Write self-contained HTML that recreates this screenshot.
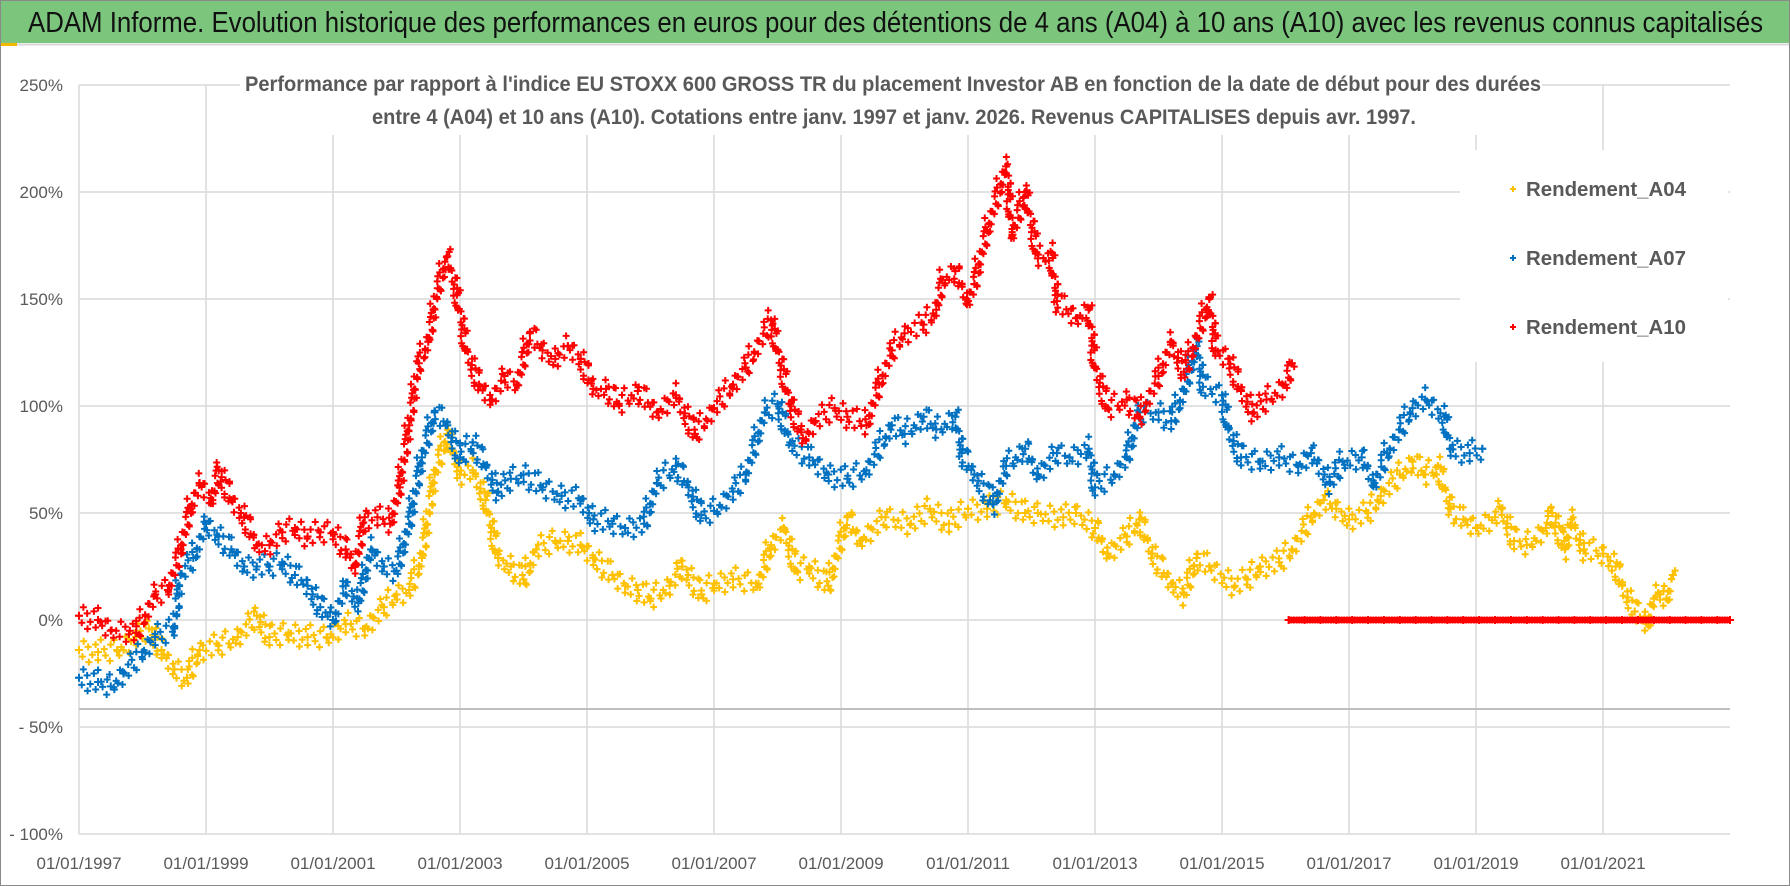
<!DOCTYPE html>
<html><head><meta charset="utf-8"><style>
html,body{margin:0;padding:0;background:#fff;width:1790px;height:886px;overflow:hidden}
svg{display:block;font-family:"Liberation Sans",sans-serif}
</style></head><body>
<svg id="chart" width="1790" height="886">
<rect x="0" y="0" width="1790" height="886" fill="#fff" stroke="#8a8a8a" stroke-width="2"/>
<rect x="1" y="1" width="1788" height="42" fill="#7cc57d"/>
<rect x="1" y="43" width="16" height="3" fill="#f2b800"/>
<line x1="17" y1="44.5" x2="1789" y2="44.5" stroke="#d8d8d8" stroke-width="2"/>
<text x="28" y="32" font-size="29" fill="#111" textLength="1735" lengthAdjust="spacingAndGlyphs">ADAM Informe. Evolution historique des performances en euros pour des détentions de 4 ans (A04) à 10 ans (A10) avec les revenus connus capitalisés</text>
<g id="grid"></g>
<rect x="240" y="70" width="1302" height="65" fill="#fff"/>
<rect x="1460" y="150" width="268" height="212" fill="#fff"/>
<g id="marks"></g>
<text x="245" y="91" font-size="21" font-weight="bold" fill="#595959" textLength="1296" lengthAdjust="spacingAndGlyphs">Performance par rapport à l'indice EU STOXX 600 GROSS TR  du placement Investor AB en fonction de la date de début pour des durées</text>
<text x="372" y="124" font-size="21" font-weight="bold" fill="#595959" textLength="1044" lengthAdjust="spacingAndGlyphs">entre 4 (A04) et 10 ans (A10).  Cotations entre janv. 1997 et janv. 2026. Revenus CAPITALISES depuis avr. 1997.</text>
<g id="legend"></g>
<g id="axes"></g>
</svg>
<script>
const yTicks=[-100,-50,0,50,100,150,200,250];
const yTickLabels=['- 100%','- 50%','0%','50%','100%','150%','200%','250%'];
const xTicks=[1997,1999,2001,2003,2005,2007,2009,2011,2013,2015,2017,2019,2021];
const xTickLabels=['01/01/1997','01/01/1999','01/01/2001','01/01/2003','01/01/2005','01/01/2007','01/01/2009','01/01/2011','01/01/2013','01/01/2015','01/01/2017','01/01/2019','01/01/2021'];
const seriesNames=['Rendement_A04','Rendement_A07','Rendement_A10'];
const a04Dates=[1997.0,1997.3,1997.6,1997.9,1998.1,1998.3,1998.5,1998.7,1998.9,1999.2,1999.5,1999.8,2000.0,2000.3,2000.6,2000.9,2001.2,2001.5,2001.8,2002.0,2002.2,2002.4,2002.6,2002.8,2003.0,2003.2,2003.4,2003.6,2003.8,2004.0,2004.2,2004.5,2004.7,2004.9,2005.1,2005.4,2005.6,2005.8,2006.0,2006.3,2006.5,2006.8,2007.0,2007.3,2007.7,2007.9,2008.1,2008.3,2008.5,2008.8,2009.1,2009.3,2009.7,2010.1,2010.4,2010.7,2011.0,2011.3,2011.6,2011.9,2012.1,2012.5,2012.7,2013.0,2013.2,2013.5,2013.7,2013.9,2014.2,2014.4,2014.6,2014.8,2015.2,2015.4,2015.6,2015.9,2016.1,2016.4,2016.6,2016.8,2017.0,2017.3,2017.5,2017.8,2018.0,2018.2,2018.4,2018.6,2018.8,2019.0,2019.3,2019.4,2019.6,2019.8,2020.1,2020.2,2020.4,2020.5,2020.7,2021.0,2021.2,2021.3,2021.5,2021.7,2021.8,2021.9,2022.0,2022.1];
const a04Values=[-14,-15,-14,-8,-4,-14,-23,-27,-14,-12,-8,2,-8,-6,-8,-8,-2,-4,6,12,14,29,68,87,68,70,56,29,25,19,33,37,37,35,29,21,16,14,10,16,25,12,17,19,17,35,43,23,25,16,48,37,48,45,52,45,52,52,56,50,50,48,50,43,31,39,47,31,17,12,29,25,16,19,25,27,33,48,56,52,47,50,58,68,74,68,72,52,47,43,48,52,37,35,43,50,33,47,33,31,25,16,4,-2,10,12,10,21];
const a07Dates=[1997.0,1997.3,1997.5,1997.7,1998.0,1998.2,1998.5,1998.6,1998.8,1999.0,1999.2,1999.4,1999.6,1999.8,2000.0,2000.2,2000.4,2000.6,2000.8,2001.0,2001.2,2001.4,2001.6,2001.8,2002.0,2002.2,2002.4,2002.6,2002.8,2003.0,2003.2,2003.4,2003.6,2003.8,2004.0,2004.3,2004.6,2004.9,2005.1,2005.4,2005.6,2005.9,2006.1,2006.4,2006.6,2006.8,2007.0,2007.3,2007.5,2007.8,2008.0,2008.2,2008.5,2008.8,2009.1,2009.4,2009.8,2010.0,2010.3,2010.5,2010.8,2010.9,2011.1,2011.4,2011.6,2011.9,2012.1,2012.4,2012.6,2012.9,2013.0,2013.3,2013.5,2013.7,2014.0,2014.2,2014.4,2014.6,2014.7,2015.0,2015.1,2015.3,2015.6,2015.9,2016.2,2016.4,2016.7,2016.9,2017.2,2017.4,2017.6,2017.8,2018.0,2018.2,2018.5,2018.6,2018.9,2019.1];
const a07Values=[-27,-29,-31,-25,-15,-8,-4,21,29,45,39,33,25,25,25,27,21,16,6,0,16,8,33,25,23,45,76,97,91,76,83,72,60,66,68,62,58,56,47,45,43,45,64,72,62,49,51,60,68,97,101,83,76,68,66,70,91,87,95,89,95,78,68,54,72,80,68,78,76,80,62,68,76,97,97,93,107,128,109,105,89,76,74,76,72,78,64,74,76,64,78,89,99,103,95,80,78,80];
const a10Dates=[1997.0,1997.3,1997.5,1997.8,1997.9,1998.2,1998.4,1998.6,1998.75,1998.9,1999.1,1999.2,1999.4,1999.6,1999.8,2000.0,2000.2,2000.4,2000.6,2000.8,2001.0,2001.2,2001.35,2001.5,2001.7,2001.9,2002.05,2002.2,2002.35,2002.5,2002.65,2002.8,2002.95,2003.1,2003.3,2003.5,2003.7,2003.9,2004.1,2004.3,2004.5,2004.7,2004.9,2005.1,2005.3,2005.5,2005.8,2006.1,2006.4,2006.7,2007.0,2007.3,2007.5,2007.9,2008.0,2008.2,2008.4,2008.6,2008.9,2009.1,2009.4,2009.6,2009.8,2010.0,2010.3,2010.5,2010.6,2010.8,2011.0,2011.1,2011.3,2011.6,2011.7,2011.9,2012.1,2012.3,2012.4,2012.7,2012.9,2013.0,2013.2,2013.5,2013.7,2014.0,2014.2,2014.4,2014.6,2014.8,2014.9,2015.1,2015.3,2015.5,2015.7,2016.0,2016.1];
const a10Values=[2,0,-5,-5,-6,12,14,33,52,64,56,70,56,48,35,35,41,43,39,41,41,33,25,48,48,45,62,91,120,130,155,170,152,126,110,103,114,110,134,126,122,128,122,108,108,101,107,97,105,87,99,110,118,140,126,101,85,93,99,95,91,110,126,134,138,145,159,163,149,157,182,212,180,200,169,172,149,141,145,118,99,103,95,114,130,116,132,150,126,122,107,97,103,110,120];
const a10ZeroDates=[2016.05,2016.3,2016.55,2016.8,2017.05,2017.3,2017.55,2017.8,2018.05,2018.3,2018.55,2018.8,2019.05,2019.3,2019.55,2019.8,2020.05,2020.3,2020.55,2020.8,2021.05,2021.3,2021.55,2021.8,2022.05,2022.3,2022.55,2022.8,2023.0];
const a10ZeroValues=[0,0,0,0,0,0,0,0,0,0,0,0,0,0,0,0,0,0,0,0,0,0,0,0,0,0,0,0,0];

const NS='http://www.w3.org/2000/svg';
const X0=79,XR=1730,Y0=620;
function xs(t){return X0+(t-1997)*63.5;}
function ys(v){return Y0-v*2.14;}
function mk(tag,attrs,parent){const e=document.createElementNS(NS,tag);for(const k in attrs)e.setAttribute(k,attrs[k]);parent.appendChild(e);return e;}
const grid=document.getElementById('grid'),axes=document.getElementById('axes'),marks=document.getElementById('marks'),legend=document.getElementById('legend');
yTicks.forEach((v,i)=>{
  const l=mk('line',{x1:X0,x2:XR,y1:ys(v),y2:ys(v),stroke:'#d9d9d9','stroke-width':1.5},grid);
  
  
  const t=mk('text',{x:63,y:ys(v)+6,'text-anchor':'end','font-size':17,fill:'#595959'},axes);
  t.textContent=yTickLabels[i];
  
  
});
xTicks.forEach((d,i)=>{
  const l=mk('line',{x1:xs(d),x2:xs(d),y1:ys(250),y2:ys(-100),stroke:'#d9d9d9','stroke-width':1.5},grid);
  
  
  const t=mk('text',{x:xs(d),y:869,'text-anchor':'middle','font-size':17,fill:'#595959'},axes);
  t.textContent=xTickLabels[i];
  
  
});
const ax=mk('line',{x1:X0,x2:XR,y1:709,y2:709,stroke:'#bfbfbf','stroke-width':2},grid);


function plus(g,x,y,c,s){mk('path',{d:`M${x-s},${y}H${x+s}M${x},${y-s}V${y+s}`,stroke:c,'stroke-width':2},g);}
function drawSeries(dates,vals,color,name,spread){
  const g=mk('g',{},marks);
  
  
  const pts=dates.map((d,i)=>[xs(d),ys(vals[i])]);
  const offs=[0,-9,6,-4,11,-7,3,8,-12,4,-2,10,-6,1,-10,7];
  const xo=[0,2,-2,1,-1,3,-3,0];
  let k=0;
  for(let i=0;i<pts.length-1;i++){
    const [x1,y1]=pts[i],[x2,y2]=pts[i+1];
    const n=Math.max(1,Math.round(Math.hypot(x2-x1,y2-y1)/2.6));
    for(let j=0;j<n;j++){const f=j/n;const o=offs[k%offs.length]*spread;const q=xo[k%xo.length]*spread;k++;plus(g,x1+(x2-x1)*f+q,y1+(y2-y1)*f+o,color,3.5);}
  }
  const last=pts[pts.length-1];plus(g,last[0],last[1],color,3.5);
  pts.forEach(p=>plus(g,p[0],p[1],color,4));
}
drawSeries(a04Dates,a04Values,'#ffc000','series-a04',1);
drawSeries(a07Dates,a07Values,'#0070c0','series-a07',1);
drawSeries(a10Dates,a10Values,'#ff0000','series-a10',1);
drawSeries(a10ZeroDates,a10ZeroValues,'#ff0000','series-a10-zero',0);
mk('line',{x1:xs(a10ZeroDates[0]),x2:xs(a10ZeroDates[a10ZeroDates.length-1]),y1:ys(0),y2:ys(0),stroke:'#ff0000','stroke-width':6},marks);
const legColors=['#ffc000','#0070c0','#ff0000'],legY=[189,258,327];
seriesNames.forEach((n,i)=>{
  const g=mk('g',{},legend);
  
  
  plus(g,1513,legY[i],legColors[i],3);
  const t=mk('text',{x:1526,y:legY[i]+7,'font-size':20,'font-weight':'bold',fill:'#595959',textLength:160,lengthAdjust:'spacingAndGlyphs'},g);
  t.textContent=n;
});
</script>
</body></html>
